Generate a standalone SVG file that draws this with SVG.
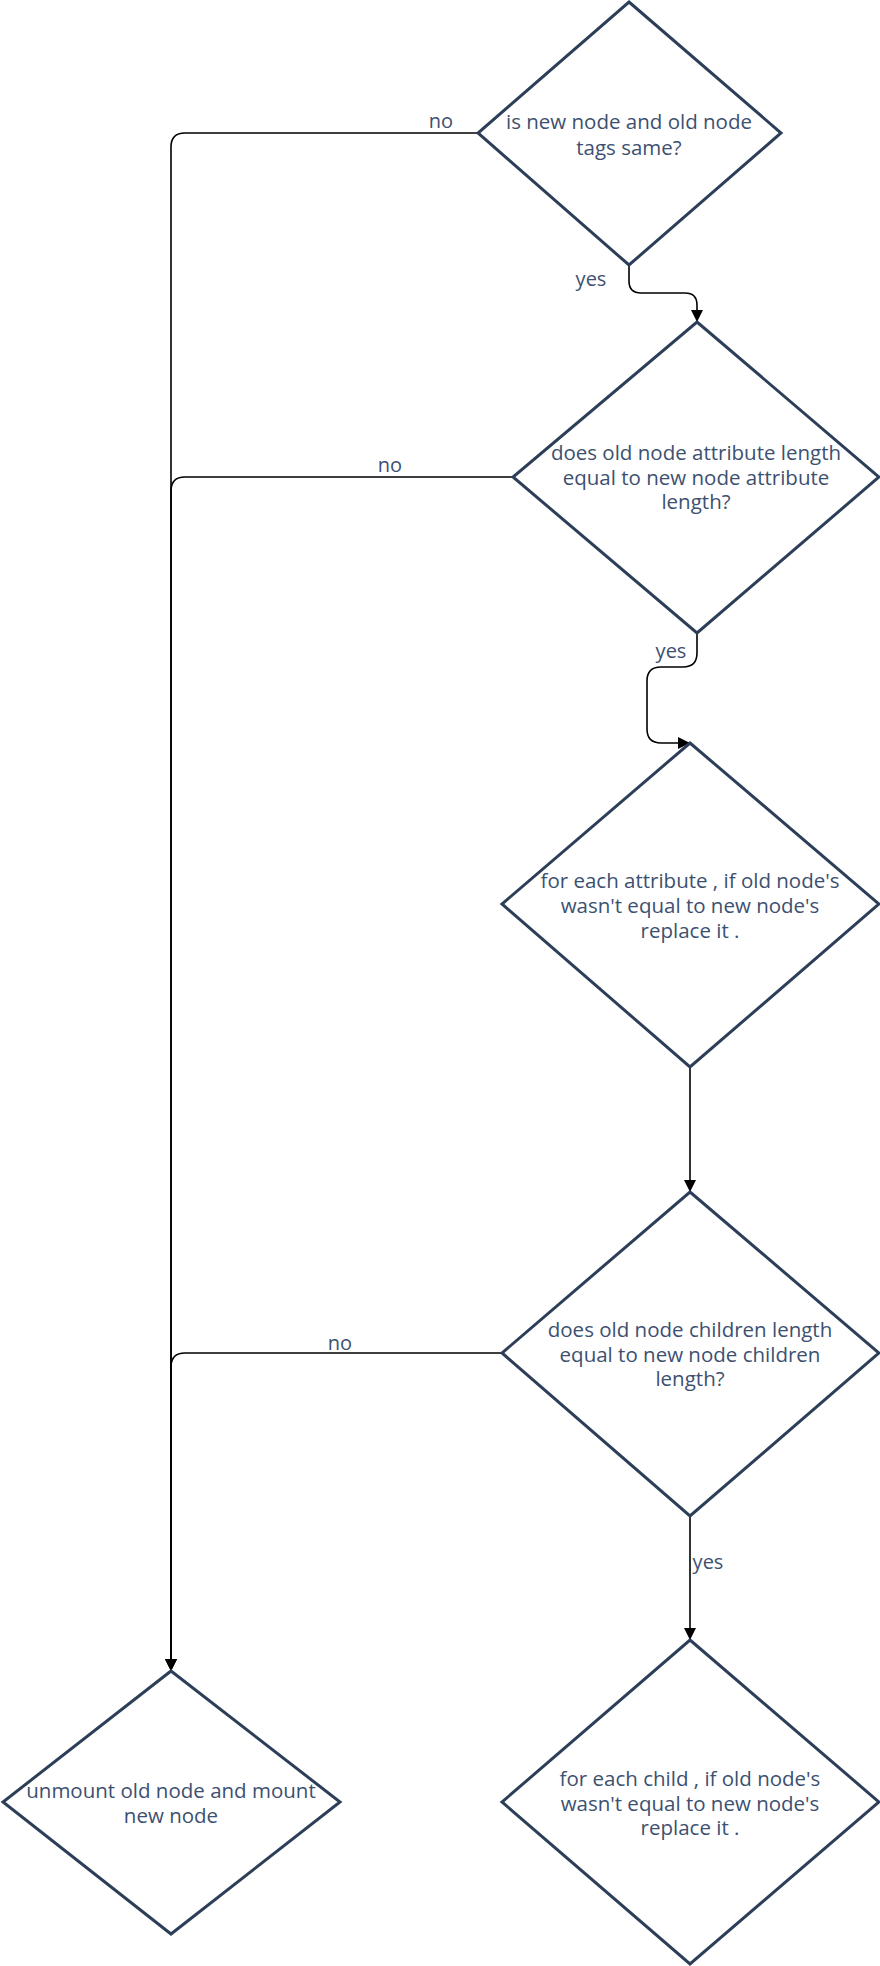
<svg xmlns="http://www.w3.org/2000/svg" width="880" height="1966" viewBox="0 0 880 1966">
<style>
.node polygon{fill:#fff;stroke:#2d3f58;stroke-width:3;stroke-linejoin:miter}
.node text{font-family:"Open Sans","Liberation Sans",sans-serif;font-size:20.5px;fill:#3d5070;text-anchor:middle}
.conn path{fill:none;stroke:#000;stroke-width:1.6}
.lbl{font-family:"Open Sans","Liberation Sans",sans-serif;font-size:20px;fill:#3d5070;text-anchor:middle}
</style>
<defs>
<marker id="arr" viewBox="0 0 12 12" refX="12" refY="6" markerWidth="12" markerHeight="12" markerUnits="userSpaceOnUse" orient="auto">
<path d="M0,0 L12,6 L0,12 Z" fill="#000"/>
</marker>
</defs>
<rect width="880" height="1966" fill="#fff"/>
<g class="conn" id="connectors">
<path d="M478,133 H185 Q171,133 171,147 V1671" marker-end="url(#arr)"/>
<path d="M513,477 H185 Q171,477 171,491 V1671" marker-end="url(#arr)"/>
<path d="M502,1353 H185 Q171,1353 171,1367 V1671" marker-end="url(#arr)"/>
<path d="M629,265 V281 Q629,293 641,293 H685 Q697,293 697,305 V322" marker-end="url(#arr)"/>
<path d="M697,633 V653 Q697,667 683,667 H661 Q647,667 647,681 V729 Q647,743 661,743 H690" marker-end="url(#arr)"/>
<path d="M690,1067 V1192" marker-end="url(#arr)"/>
<path d="M690,1516 V1640" marker-end="url(#arr)"/>
<text class="lbl" x="441" y="128">no</text>
<text class="lbl" x="390" y="472">no</text>
<text class="lbl" x="340" y="1350">no</text>
<text class="lbl" x="591" y="286">yes</text>
<text class="lbl" x="671" y="658">yes</text>
<text class="lbl" x="708" y="1569">yes</text>
</g>
<g class="node" id="tagsSame">
<polygon points="629,2 781,133 629,265 478,133"/>
<text x="629" y="129">is new node and old node</text>
<text x="629" y="155">tags same?</text>
</g>
<g class="node" id="attrLength">
<polygon points="697,322 879,477 697,633 513,477"/>
<text x="696" y="460">does old node attribute length</text>
<text x="696" y="485">equal to new node attribute</text>
<text x="696" y="509">length?</text>
</g>
<g class="node" id="eachAttr">
<polygon points="690,743 879,904 690,1067 502,904"/>
<text x="690" y="888">for each attribute , if old node's</text>
<text x="690" y="913">wasn't equal to new node's</text>
<text x="690" y="938">replace it .</text>
</g>
<g class="node" id="childLength">
<polygon points="690,1192 879,1353 690,1516 502,1353"/>
<text x="690" y="1337">does old node children length</text>
<text x="690" y="1362">equal to new node children</text>
<text x="690" y="1386">length?</text>
</g>
<g class="node" id="eachChild">
<polygon points="690,1640 879,1802 690,1964 502,1802"/>
<text x="690" y="1786">for each child , if old node's</text>
<text x="690" y="1811">wasn't equal to new node's</text>
<text x="690" y="1835">replace it .</text>
</g>
<g class="node" id="remount">
<polygon points="171,1671 340,1802 171,1934 3,1802"/>
<text x="171" y="1798">unmount old node and mount</text>
<text x="171" y="1823">new node</text>
</g>
</svg>
